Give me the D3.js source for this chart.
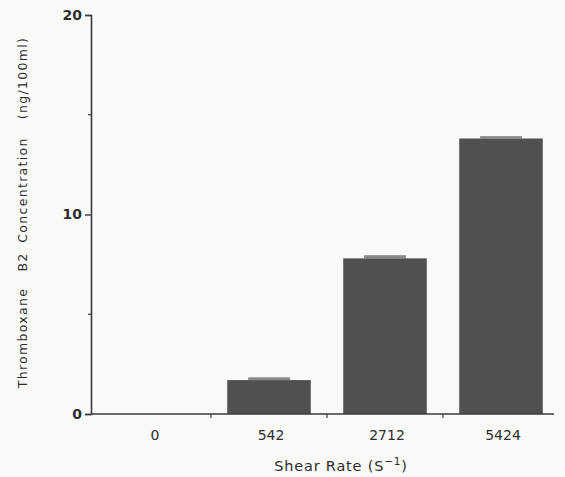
<!DOCTYPE html>
<html>
<head>
<meta charset="utf-8">
<script src="https://cdn.jsdelivr.net/npm/d3@7"></script>
<style>
  html, body { margin: 0; padding: 0; background: #f9f9f7; }
  svg { display: block; }
  text { font-family: "DejaVu Sans", "Liberation Sans", sans-serif; fill: #2e2e2e; }
</style>
</head>
<body>
<svg id="chart" width="565" height="477"></svg>
<script>
// Shear rate groups and mean thromboxane B2 concentration with error (ng/100ml)
const categories = ["0", "542", "2712", "5424"];
const means = [0, 1.70, 7.80, 13.81];
const errors = [0, 0.14, 0.16, 0.12];
const yTicks = [0, 10, 20];
const yMinorTicks = [5, 15];
const yTitleWords = ["Thromboxane", "B2", "Concentration", "(ng/100ml)"];

const svg = d3.select("#chart");
const ink = "#3a3a3a";

const x = d3.scaleBand()
  .domain(categories)
  .range([95, 559])
  .paddingInner(0.28)
  .paddingOuter(0.14);

const y = d3.scaleLinear()
  .domain([0, 20])
  .range([414, 15]);

// Error caps drawn behind the bars as short light blocks
svg.append("g").selectAll("rect")
  .data(categories.map((c, i) => ({ c, m: means[i], e: errors[i] })).filter(d => d.m > 0))
  .join("rect")
  .attr("x", d => x(d.c) + x.bandwidth() * 0.25)
  .attr("width", x.bandwidth() * 0.5)
  .attr("y", d => y(d.m + d.e))
  .attr("height", d => y(d.m) - y(d.m + d.e))
  .attr("fill", "#8a8a86");

// Bars
svg.append("g").selectAll("rect")
  .data(categories.map((c, i) => ({ c, m: means[i] })).filter(d => d.m > 0))
  .join("rect")
  .attr("x", d => x(d.c))
  .attr("width", x.bandwidth())
  .attr("y", d => y(d.m))
  .attr("height", d => y(0) - y(d.m))
  .attr("fill", "#50504e");

// Y axis
const yAxis = svg.append("g")
  .attr("transform", "translate(91,0)")
  .call(d3.axisLeft(y).tickValues(yTicks).tickSize(6).tickPadding(3).tickFormat(d3.format("d")));
yAxis.select(".domain").attr("stroke", ink).attr("stroke-width", 1.6);
yAxis.selectAll(".tick line").attr("stroke", ink).attr("stroke-width", 1.4);
yAxis.selectAll(".tick text").attr("font-size", 14).attr("font-weight", "bold").attr("fill", "#333");

svg.append("g").selectAll("line")
  .data(yMinorTicks)
  .join("line")
  .attr("x1", 88).attr("x2", 91)
  .attr("y1", d => y(d)).attr("y2", d => y(d))
  .attr("stroke", ink).attr("stroke-width", 1.2);

// X axis: line with ticks between groups
svg.append("line")
  .attr("x1", 91).attr("x2", 554)
  .attr("y1", y(0)).attr("y2", y(0))
  .attr("stroke", ink).attr("stroke-width", 1.6);

svg.append("g").selectAll("line")
  .data(categories.slice(1))
  .join("line")
  .attr("x1", d => x(d) - x.step() * x.paddingInner() / 2)
  .attr("x2", d => x(d) - x.step() * x.paddingInner() / 2)
  .attr("y1", y(0)).attr("y2", y(0) + 4)
  .attr("stroke", ink).attr("stroke-width", 1.2);

svg.append("g").selectAll("text")
  .data(categories)
  .join("text")
  .attr("x", d => x(d) + x.bandwidth() / 2 + 2)
  .attr("y", 440)
  .attr("text-anchor", "middle")
  .attr("font-size", 14)
  .text(d => d);

// Axis titles
const xt = svg.append("text")
  .attr("x", 341)
  .attr("y", 471)
  .attr("text-anchor", "middle")
  .attr("font-size", 14.5)
  .attr("letter-spacing", 0.8);
xt.append("tspan").text("Shear Rate (S");
xt.append("tspan").attr("dy", -6).attr("font-size", 10.5).text("−1");
xt.append("tspan").attr("dy", 6).text(")");

// Rotated y title, words spread along the axis
const wordCenters = [338, 262, 190, 78];
svg.append("g").selectAll("text")
  .data(yTitleWords.map((w, i) => ({ w, c: wordCenters[i] })))
  .join("text")
  .attr("transform", d => `translate(27,${d.c}) rotate(-90)`)
  .attr("text-anchor", "middle")
  .attr("font-size", 12.5)
  .attr("letter-spacing", 1.3)
  .text(d => d.w);
</script>
</body>
</html>
